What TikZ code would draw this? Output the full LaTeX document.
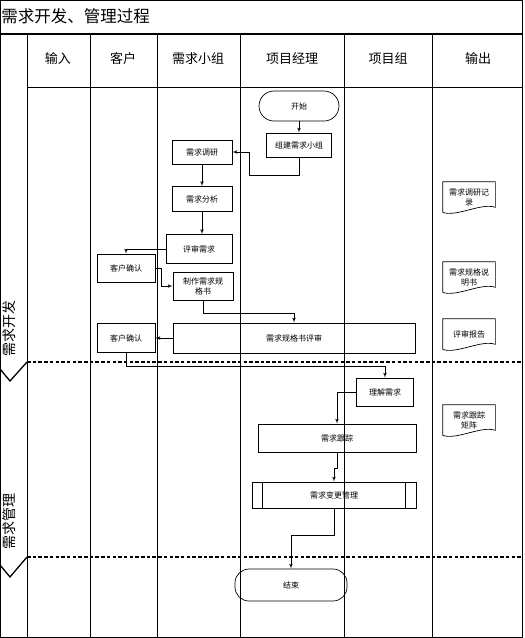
\documentclass[tikz,border=0pt]{standalone}
\usepackage{fontspec}
\setmainfont{Noto Sans CJK SC}
\usepackage{tikz}
\usetikzlibrary{arrows,calc,positioning}
\tikzstyle{BOX} = [rectangle, draw, align=center, inner sep=1pt, font=\fontsize{8}{10}\selectfont]
\tikzstyle{TERMINAL} = [rectangle, draw, rounded corners=14pt, align=center, font=\fontsize{8}{10}\selectfont]
\tikzstyle{DOC} = [rectangle, align=center, inner sep=1pt, minimum width=52, minimum height=30, font=\fontsize{8}{10}\selectfont]
\tikzstyle{HEAD} = [font=\fontsize{13}{15}\selectfont]
\tikzstyle{LANE} = [font=\fontsize{14}{16}\selectfont, rotate=90]
\tikzstyle{LINE} = [draw, -latex']
\tikzstyle{SEPARATOR} = [line width=2.2pt, dash pattern=on 3.5pt off 2.2pt]
\tikzstyle{CHEVRON} = [line width=1.3pt]

\begin{document}
\begin{tikzpicture}[x=1pt, y=-1pt, line width=0.7pt]
\useasboundingbox (0,0) rectangle (525,638);
% Frame and lanes
\draw (0,0) rectangle (522,637);
\draw [line width=1.4pt] (0,34) -- (522,34);
\draw (27,87) -- (522,87);
\foreach \x in {27,90,157,240,344,432}
  \draw (\x,34) -- (\x,637);
\node [anchor=west, inner sep=0pt, font=\fontsize{16.5}{18}\selectfont] (TITLE) at (1,16) {需求开发、管理过程};
\node [HEAD] (H_INPUT) at (58,59) {输入};
\node [HEAD] (H_CLIENT) at (123,59) {客户};
\node [HEAD] (H_TEAM) at (198,59) {需求小组};
\node [HEAD] (H_PM) at (292,59) {项目经理};
\node [HEAD] (H_GROUP) at (388,59) {项目组};
\node [HEAD] (H_OUTPUT) at (478,59) {输出};
% Phases
\draw [SEPARATOR] (27,362) -- (522,362);
\draw [SEPARATOR] (27,557) -- (522,557);
\draw [CHEVRON] (0,369) -- (10,381) -- (27,362);
\draw [CHEVRON] (0,565) -- (10,577) -- (27,557);
\node [LANE] (P_DEV) at (9,328) {需求开发};
\node [LANE] (P_MGMT) at (9,521) {需求管理};
% Place node
\node [TERMINAL, minimum width=80, minimum height=30, rounded corners=15pt] (START) at (299,106) {开始};
\node [BOX, minimum width=65, minimum height=24] (BUILD_TEAM) at (299,145) {组建需求小组};
\node [BOX, minimum width=60, minimum height=24] (RESEARCH) at (202,152) {需求调研};
\node [BOX, minimum width=60, minimum height=25] (ANALYSIS) at (202,199) {需求分析};
\node [BOX, minimum width=66, minimum height=29] (REVIEW) at (199,249) {评审需求};
\node [BOX, minimum width=58, minimum height=28] (CONFIRM_1) at (126,268) {客户确认};
\node [BOX, minimum width=60, minimum height=28] (SPEC) at (203,286) {制作需求规\\格书};
\node [BOX, minimum width=242, minimum height=30] (SPEC_REVIEW) at (294,338) {需求规格书评审};
\node [BOX, minimum width=58, minimum height=29] (CONFIRM_2) at (126,338) {客户确认};
\node [BOX, minimum width=57, minimum height=28] (UNDERSTAND) at (385,392) {理解需求};
\node [BOX, minimum width=158, minimum height=28] (TRACK) at (337,438) {需求跟踪};
\node [BOX, minimum width=164, minimum height=26] (CHANGE) at (334,495) {需求变更管理};
\draw ($(CHANGE.north west)+(11,0)$) -- ($(CHANGE.south west)+(11,0)$);
\draw ($(CHANGE.north east)+(-11,0)$) -- ($(CHANGE.south east)+(-11,0)$);
\node [TERMINAL, minimum width=112, minimum height=32] (END) at (291,585) {结束};
% Outputs
\foreach \nm/\cx/\cy/\txt in {OUT_RECORD/469/197/{需求调研记\\录}, OUT_SPEC/469/277/{需求规格说\\明书}, OUT_REPORT/469/334/{评审报告}, OUT_MATRIX/469/420/{需求跟踪\\矩阵}} {
  \node [DOC] (\nm) at (\cx,\cy) {\txt};
  \draw (\nm.south west) -- (\nm.north west) -- (\nm.north east) -- ($(\nm.south east)+(0,-5)$)
    .. controls ($(\nm.south east)+(-14,-10)$) and ($(\nm.south west)+(14,5)$) .. (\nm.south west);
}
% LINES and ARROWS
\path [LINE] (START) -- (BUILD_TEAM);
\path [LINE] (BUILD_TEAM.south) -- ++(0,18) -| ($(RESEARCH.east)+(17,0)$) -- (RESEARCH.east);
\path [LINE] (RESEARCH) -- (ANALYSIS);
\path [LINE] (ANALYSIS.south) -- (ANALYSIS.south |- REVIEW.north);
\path [LINE] (REVIEW.west) -| (CONFIRM_1.north);
\path [LINE] (CONFIRM_1.east) -- ++(6,0) |- (SPEC.west);
\path [LINE] (SPEC.south) -- ++(0,13) -| (SPEC_REVIEW.north);
\path [LINE] (SPEC_REVIEW.west) -- (CONFIRM_2.east);
\path [LINE] (CONFIRM_2.south) -- ++(0,13) -| (UNDERSTAND.north);
\path [LINE] (UNDERSTAND.west) -| (TRACK.north);
\path [LINE] (TRACK.south) -- ++(0,16) -| (CHANGE.north);
\path [LINE] (CHANGE.south) -- ++(0,27) -| (END.north);
\end{tikzpicture}
\end{document}
